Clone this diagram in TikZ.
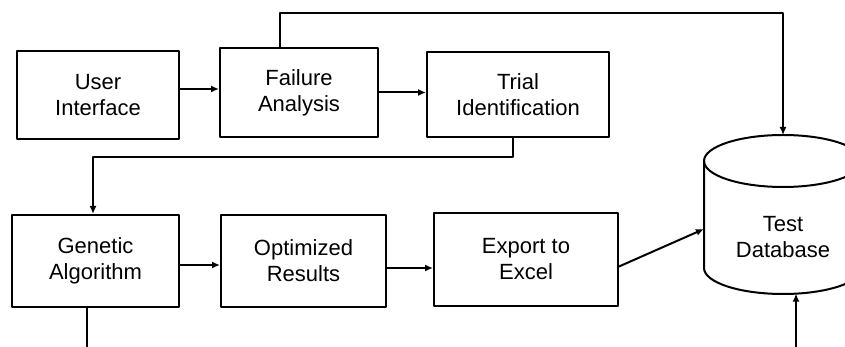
\documentclass[tikz,border=0pt]{standalone}
\usepackage{fontspec}
\setmainfont{Liberation Sans}
\usetikzlibrary{arrows.meta}
\begin{document}
\begin{tikzpicture}[x=1pt,y=1pt,>={Latex[length=8pt,width=7pt]},line join=round,
	line width=2pt,font=\fontsize{22}{26}\selectfont,
	blok/.style={draw,rectangle,align=center,inner sep=2pt},
	lbl/.style={align=center,inner sep=0pt}]
	\useasboundingbox (0,0) rectangle (845,347);
	\clip (0,0) rectangle (845,347);
	\def\rx{79} % ban kinh ngang cua tru
	\def\ry{26}
	% cac khoi
	\node[blok,minimum width=162,minimum height=88] (ui) at (98,252) {User\\Interface};
	\node[blok,minimum width=158,minimum height=89] (fa) at (299,254.5) {Failure\\Analysis};
	\node[blok,minimum width=182,minimum height=85] (ti) at (518,252.5) {Trial\\Identification};
	\node[blok,minimum width=167,minimum height=92] (ga) at (95.5,86) {Genetic\\Algorithm};
	\node[blok,minimum width=165,minimum height=92] (ores) at (303.5,86) {Optimized\\Results};
	\node[blok,minimum width=184,minimum height=93] (ee) at (526,87.5) {Export to\\Excel};
	% co so du lieu
	\draw (783-\rx,186) -- (783-\rx,79) arc[start angle=180,end angle=360,x radius=\rx,y radius=\ry] -- (783+\rx,186);
	\draw (783,186) ellipse[x radius=\rx,y radius=\ry];
	\node[lbl] (db) at (783,110) {Test\\Database};
	\coordinate (dbtop) at (783,212);
	\coordinate (dbleft) at (783-\rx,118);
	\coordinate (dbbot) at (796,53.4);
	\coordinate (gaout) at (87,0);
	\coordinate (dbin) at (796,0);
	% mui ten
	\draw[->] ([yshift=6pt]ui.east) -- ([yshift=6pt]ui.east -| fa.west);
	\draw[->] (fa.east) -- (fa.east -| ti.west);
	\draw[->] ([xshift=-19pt]fa.north) |- (783,334) -- (dbtop);
	\draw[->] ([xshift=-5pt]ti.south) |- (93,190) -- ([xshift=-2.5pt]ga.north);
	\draw[->] ([yshift=-4pt]ga.east) -- ([yshift=-4pt]ga.east -| ores.west);
	\draw[->] ([yshift=-7pt]ores.east) -- ([yshift=-7pt]ores.east -| ee.west);
	\draw[->] ([yshift=-7pt]ee.east) -- (dbleft);
	\draw ([xshift=-8.5pt]ga.south) -- (gaout);
	\draw[->] (dbin) -- (dbbot);
\end{tikzpicture}
\end{document}
